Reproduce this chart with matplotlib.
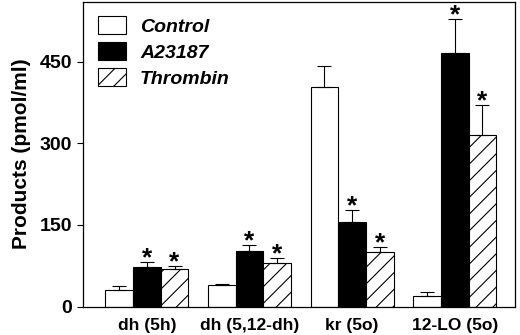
import matplotlib
matplotlib.use('Agg')
import matplotlib.pyplot as plt
import numpy as np

plt.rcParams['font.family'] = ['Liberation Sans', 'DejaVu Sans']
plt.rcParams['font.weight'] = 'bold'
plt.rcParams['hatch.linewidth'] = 0.8

# data
groups = ['dh (5h)', 'dh (5,12-dh)', 'kr (5o)', '12-LO (5o)']
control = [31, 40, 404, 20]
control_err = [7, 2, 37, 6]
a23187 = [73, 102, 155, 466]
a23187_err = [9, 11, 22, 62]
thrombin = [69, 80, 100, 315]
thrombin_err = [6, 9, 10, 55]
# asterisks (significance) per series
star_control = [False, False, False, False]
star_a23187 = [True, True, True, True]
star_thrombin = [True, True, True, True]

fig = plt.figure(figsize=(5.2, 3.35), dpi=100)
ax = fig.add_axes([0.16, 0.085, 0.831, 0.91])

x = np.arange(len(groups))
w = 0.27
series = [
    ('Control', control, control_err, star_control, dict(color='white')),
    ('A23187', a23187, a23187_err, star_a23187, dict(color='black')),
    ('Thrombin', thrombin, thrombin_err, star_thrombin, dict(color='white', hatch='//')),
]
for i, (name, vals, errs, stars, style) in enumerate(series):
    xs = x + (i - 1) * w
    ax.bar(xs, vals, width=w, edgecolor='black', linewidth=0.8, label=name, **style)
    ax.errorbar(xs, vals, yerr=[np.zeros(len(vals)), errs], fmt='none',
                ecolor='black', elinewidth=0.8, capsize=5, capthick=0.8)
    for xi, v, e, s in zip(xs, vals, errs, stars):
        if s:
            ax.annotate('*', (xi, v + e), xytext=(0, -2.5), textcoords='offset points',
                        ha='center', va='baseline', fontsize=19, fontweight='bold')

ax.set_xlim(-0.62, 3.59)
ax.set_ylim(0, 560)
ax.set_yticks([0, 150, 300, 450])
ax.set_xticks(x)
ax.set_xticklabels(groups, fontsize=12.5, fontweight='bold')
ax.tick_params(axis='x', length=0, pad=8)
ax.tick_params(axis='y', labelsize=14, length=4, width=0.8, pad=4)
for lbl in ax.get_yticklabels():
    lbl.set_fontweight('bold')
ax.set_ylabel('Products (pmol/ml)', fontsize=15, fontweight='bold', labelpad=6)
for sp in ax.spines.values():
    sp.set_linewidth(0.9)

leg = ax.legend(loc='upper left', frameon=False, handlelength=1.45, handleheight=1.0,
                prop={'size': 14, 'weight': 'bold', 'style': 'italic'},
                bbox_to_anchor=(0.016, 0.977), labelspacing=0.34, handletextpad=0.72,
                borderpad=0.4, borderaxespad=0)

fig.savefig('out.png', dpi=100)
